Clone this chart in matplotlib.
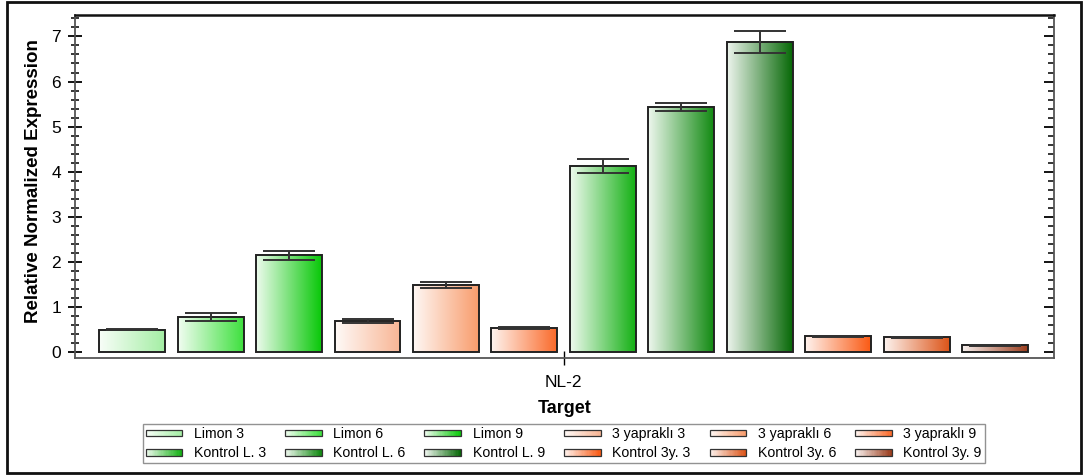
import numpy as np
import matplotlib
matplotlib.use("Agg")
import matplotlib.pyplot as plt
from matplotlib.colors import LinearSegmentedColormap, to_rgb
from matplotlib.patches import Rectangle
from matplotlib.legend_handler import HandlerBase

plt.rcParams['font.family'] = ['Liberation Sans', 'DejaVu Sans']

labels = ['Limon 3', 'Limon 6', 'Limon 9',
          '3 yapraklı 3', '3 yapraklı 6', '3 yapraklı 9',
          'Kontrol L. 3', 'Kontrol L. 6', 'Kontrol L. 9',
          'Kontrol 3y. 3', 'Kontrol 3y. 6', 'Kontrol 3y. 9']
values = [0.50, 0.78, 2.15, 0.69, 1.49, 0.53, 4.13, 5.43, 6.88, 0.35, 0.33, 0.16]
errors = [0.01, 0.08, 0.10, 0.04, 0.06, 0.02, 0.16, 0.09, 0.24, 0.01, 0.01, 0.01]
colors = ['#a4eea4', '#3ee03e', '#08c808',
          '#f8b594', '#f89c6c', '#fa6a2a',
          '#14b014', '#128a12', '#066806',
          '#fa5a14', '#dc5418', '#9a3c1c']
target = 'NL-2'


def grad_cmap(c):
    rgb = np.array(to_rgb(c))
    start = 0.93 + 0.07 * rgb
    return LinearSegmentedColormap.from_list('g', [start, rgb])


class GradHandler(HandlerBase):
    def create_artists(self, legend, orig_handle, xdescent, ydescent,
                       width, height, fontsize, trans):
        cmap = grad_cmap(orig_handle.get_facecolor())
        n = 30
        h = height * 0.7
        y0 = -ydescent + (height - h) / 2
        arts = []
        for i in range(n):
            r = Rectangle((-xdescent + i * width / n, y0), width / n * 1.05, h,
                          facecolor=cmap(i / (n - 1)), edgecolor='none',
                          transform=trans)
            arts.append(r)
        arts.append(Rectangle((-xdescent, y0), width, h, facecolor='none',
                              edgecolor='#333333', lw=0.9, transform=trans))
        return arts


fig = plt.figure(figsize=(10.86, 4.75), dpi=100)
ax = fig.add_axes([0.069, 0.246, 0.9015, 0.722])

x = np.arange(len(values))
bars = ax.bar(x, values, width=0.84, facecolor='none', edgecolor='#222222',
              linewidth=1.4, zorder=3)
grad = np.linspace(0, 1, 256).reshape(1, -1)
for b, c in zip(bars, colors):
    bx, by = b.get_x(), b.get_y()
    ax.imshow(grad, extent=[bx, bx + b.get_width(), by, by + b.get_height()],
              aspect='auto', cmap=grad_cmap(c), zorder=2, interpolation='bilinear')

ax.errorbar(x, values, yerr=errors, fmt='none', ecolor='#333333',
            elinewidth=1.4, capsize=19, capthick=1.4, zorder=4)

ax.set_xlim(-0.73, 11.75)
ax.set_ylim(-0.13, 7.47)
ax.set_xticks([5.5])
ax.set_xticklabels([target], fontsize=12.5)
ax.set_yticks(range(8))
ax.set_yticks(np.arange(0, 7.41, 0.2), minor=True)
ax.tick_params(axis='y', which='major', direction='inout', length=10, width=1.3,
               labelsize=12.5, pad=5)
ax.tick_params(axis='y', which='minor', direction='inout', length=6, width=1.1)
ax.tick_params(axis='x', which='major', direction='inout', length=10, width=1,
               labelsize=12.5, pad=7)

sec = ax.secondary_yaxis('right')
sec.set_yticks(range(8))
sec.set_yticks(np.arange(0, 7.41, 0.2), minor=True)
sec.tick_params(axis='y', which='major', direction='in', length=7, width=1.3,
                labelright=False)
sec.tick_params(axis='y', which='minor', direction='in', length=4, width=1.1)
sec.spines['right'].set_color('#555555')
sec.spines['right'].set_linewidth(1.3)

for s in ['left', 'bottom']:
    ax.spines[s].set_color('#555555')
    ax.spines[s].set_linewidth(1.3)
ax.spines['right'].set_visible(False)
ax.spines['top'].set_color('#111111')
ax.spines['top'].set_linewidth(1.8)

ax.set_ylabel('Relative Normalized Expression', fontsize=13.5, fontweight='bold')
ax.yaxis.set_label_coords(-0.034, 0.517)
ax.set_xlabel('Target', fontsize=13, fontweight='bold', labelpad=7)

order = [0, 6, 1, 7, 2, 8, 3, 9, 4, 10, 5, 11]
handles = [Rectangle((0, 0), 1, 1, facecolor=colors[i]) for i in order]
leg = fig.legend(handles, [labels[i] for i in order], ncol=6, loc='center',
                 bbox_to_anchor=(0.519, 0.066), fontsize=10.2,
                 handler_map={Rectangle: GradHandler()},
                 handlelength=2.6, handleheight=0.7, handletextpad=0.8,
                 columnspacing=1.35, labelspacing=0.38, borderpad=0.2,
                 borderaxespad=0, fancybox=False, frameon=True)
leg.get_frame().set_edgecolor('#777777')
leg.get_frame().set_linewidth(1.0)

fig.patches.append(Rectangle((0.0065, 0.004), 0.9885, 0.992, transform=fig.transFigure,
                             facecolor='none', edgecolor='#111111', lw=2.0))

fig.savefig('out.png', dpi=100)
